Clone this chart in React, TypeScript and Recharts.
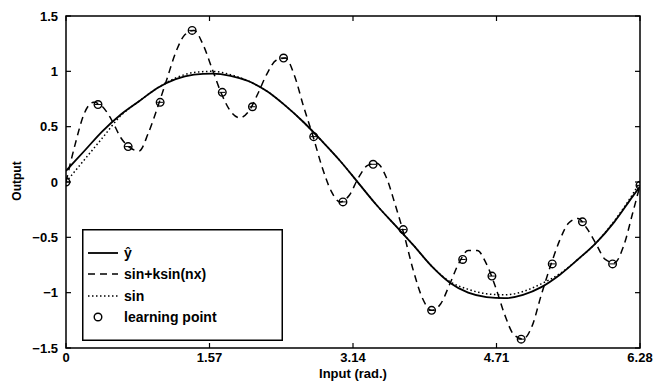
import React from 'react';
import { ComposedChart, Line, Scatter, XAxis, YAxis, ReferenceArea } from 'recharts';

const W = 661;
const H = 383;
const PLOT = { left: 66, top: 16, right: 640, bottom: 348 };
const FONT = '"Liberation Sans", Arial, Helvetica, sans-serif';

const xTicks = [0, 1.57, 3.14, 4.71, 6.28];
const yTicks = [-1.5, -1, -0.5, 0, 0.5, 1, 1.5];

// x grid for the smooth curves (y hat and sin)
const smoothX = [0, 0.2, 0.4, 0.6, 0.8, 1.0, 1.2, 1.4, 1.6, 1.8, 2.0, 2.2, 2.4, 2.6, 2.8, 3.0,
  3.2, 3.4, 3.6, 3.8, 4.0, 4.2, 4.4, 4.6, 4.8, 5.0, 5.2, 5.4, 5.6, 5.8, 6.0, 6.2, 6.28];
const yHat = [0.10, 0.28, 0.46, 0.61, 0.73, 0.85, 0.93, 0.97, 0.98, 0.96, 0.91, 0.82, 0.69, 0.54, 0.37, 0.19,
  -0.01, -0.21, -0.39, -0.57, -0.76, -0.91, -1.00, -1.04, -1.05, -1.02, -0.95, -0.84, -0.70, -0.55, -0.36, -0.13, -0.04];
// dotted sin curve as drawn (mostly hidden under y hat)
const sinY = [0, 0.20, 0.40, 0.60, 0.73, 0.85, 0.94, 0.99, 1.00, 0.97, 0.91, 0.82, 0.69, 0.54, 0.37, 0.19,
  -0.01, -0.21, -0.39, -0.57, -0.76, -0.90, -0.97, -1.01, -1.02, -0.99, -0.92, -0.83, -0.70, -0.55, -0.35, -0.11, 0.00];

// sin + k sin(nx), read every 0.1
const dashX = [0, 0.1, 0.2, 0.3, 0.4, 0.5, 0.6, 0.7, 0.8, 0.9, 1.0, 1.1, 1.2, 1.3, 1.4, 1.5, 1.6, 1.7, 1.8, 1.9,
  2.0, 2.1, 2.2, 2.3, 2.4, 2.5, 2.6, 2.7, 2.8, 2.9, 3.0, 3.1, 3.2, 3.3, 3.4, 3.5, 3.6, 3.7, 3.8, 3.9,
  4.0, 4.1, 4.2, 4.3, 4.4, 4.5, 4.6, 4.7, 4.8, 4.9, 5.0, 5.1, 5.2, 5.3, 5.4, 5.5, 5.6, 5.7, 5.8, 5.9,
  6.0, 6.1, 6.2, 6.28];
const dashY = [0.00, 0.34, 0.62, 0.72, 0.68, 0.56, 0.40, 0.31, 0.28, 0.44, 0.67, 0.92, 1.17, 1.33, 1.37, 1.24,
  1.02, 0.80, 0.64, 0.58, 0.64, 0.80, 0.98, 1.10, 1.12, 0.96, 0.68, 0.42, 0.14, -0.08, -0.18, -0.12,
  0.04, 0.15, 0.17, 0.05, -0.20, -0.48, -0.80, -1.05, -1.16, -1.10, -0.92, -0.73, -0.62, -0.62, -0.74,
  -0.95, -1.20, -1.38, -1.42, -1.30, -1.02, -0.76, -0.53, -0.37, -0.33, -0.42, -0.56, -0.70, -0.73,
  -0.58, -0.28, -0.03];

const learnX = [0, 0.35, 0.68, 1.03, 1.38, 1.71, 2.04, 2.38, 2.71, 3.03, 3.36, 3.69, 4.00, 4.34, 4.66, 4.98,
  5.32, 5.65, 5.98, 6.28];
const learnY = [0.00, 0.70, 0.32, 0.72, 1.37, 0.81, 0.68, 1.12, 0.41, -0.18, 0.16, -0.43, -1.16, -0.70, -0.85,
  -1.42, -0.74, -0.36, -0.74, -0.03];

const hatData = smoothX.map((x, i) => ({ x, y: yHat[i] }));
const sinData = smoothX.map((x, i) => ({ x, y: sinY[i] }));
const dashData = dashX.map((x, i) => ({ x, y: dashY[i] }));
const learnData = learnX.map((x, i) => ({ x, y: learnY[i] }));

const fmtY = (v: number) => (v < 0 ? '\u2212' + String(-v) : String(v));

const XTick = (props: any) => {
  const { x, y, payload } = props;
  return (
    <g>
      <line x1={x} x2={x} y1={PLOT.bottom} y2={PLOT.bottom - 5} stroke="#000" strokeWidth={1.2} />
      <line x1={x} x2={x} y1={PLOT.top} y2={PLOT.top + 5} stroke="#000" strokeWidth={1.2} />
      <text x={x} y={y} dy={10} textAnchor="middle" fontSize={13} fontWeight="bold" fill="#000" fontFamily={FONT}>
        {payload.value}
      </text>
    </g>
  );
};

const YTick = (props: any) => {
  const { x, y, payload } = props;
  return (
    <g>
      <line x1={PLOT.left} x2={PLOT.left + 5} y1={y} y2={y} stroke="#000" strokeWidth={1.2} />
      <line x1={PLOT.right} x2={PLOT.right - 5} y1={y} y2={y} stroke="#000" strokeWidth={1.2} />
      <text x={x} y={y} dy={4.5} textAnchor="end" fontSize={13} fontWeight="bold" fill="#000" fontFamily={FONT}>
        {fmtY(payload.value)}
      </text>
    </g>
  );
};

const LearnDot = (props: any) => {
  const { cx, cy } = props;
  if (cx == null || cy == null) return null;
  return (
    <g>
      <circle cx={cx} cy={cy} r={3.8} fill="none" stroke="#000" strokeWidth={1.4} />
      <line x1={cx - 3} x2={cx + 3} y1={cy} y2={cy} stroke="#000" strokeWidth={1} />
    </g>
  );
};

const Legend = () => (
  <svg
    width={201}
    height={112}
    style={{ position: 'absolute', left: 82, top: 229, background: '#fff' }}
  >
    <rect x={0.75} y={0.75} width={199.5} height={110.5} fill="#fff" stroke="#000" strokeWidth={1.5} />
    <g fontFamily={FONT} fontSize={14} fontWeight="bold" fill="#000">
      <line x1={6} x2={36} y1={24} y2={24} stroke="#000" strokeWidth={1.8} />
      <text x={42} y={29}>ŷ</text>
      <line x1={6} x2={36} y1={45} y2={45} stroke="#000" strokeWidth={1.5} strokeDasharray="7 5" />
      <text x={42} y={50}>sin+ksin(nx)</text>
      <line x1={6} x2={36} y1={67} y2={67} stroke="#000" strokeWidth={1.5} strokeDasharray="1.5 2.5" />
      <text x={42} y={72}>sin</text>
      <circle cx={16} cy={88} r={3.8} fill="none" stroke="#000" strokeWidth={1.4} />
      <text x={42} y={93}>learning point</text>
    </g>
  </svg>
);

export default function App() {
  return (
    <div style={{ position: 'absolute', left: 0, top: 0, width: W, height: H, background: '#fff' }}>
      <ComposedChart width={W} height={H} margin={{ top: PLOT.top, right: W - PLOT.right, bottom: 0, left: 0 }}>
        <XAxis
          type="number"
          dataKey="x"
          domain={[0, 6.28]}
          ticks={xTicks}
          allowDataOverflow
          axisLine={false}
          tickLine={false}
          tickSize={0}
          tickMargin={4}
          tick={<XTick />}
          height={H - PLOT.bottom}
          label={{
            value: 'Input (rad.)',
            position: 'insideBottom',
            offset: 5,
            style: { fontSize: 13, fontWeight: 'bold', fill: '#000', fontFamily: FONT },
          }}
        />
        <YAxis
          type="number"
          dataKey="y"
          domain={[-1.5, 1.5]}
          ticks={yTicks}
          allowDataOverflow
          axisLine={false}
          tickLine={false}
          tickSize={0}
          tickMargin={8}
          tick={<YTick />}
          width={PLOT.left}
          label={() => (
            <text
              x={17}
              y={181}
              transform="rotate(-90, 17, 181)"
              textAnchor="middle"
              dominantBaseline="central"
              fontSize={12}
              fontWeight="bold"
              fill="#000"
              fontFamily={FONT}
            >
              Output
            </text>
          )}
        />
        <ReferenceArea x1={0} x2={6.28} y1={-1.5} y2={1.5} fill="none" stroke="#000" strokeWidth={1.5} />
        <Line data={sinData} dataKey="y" type="monotone" stroke="#000" strokeWidth={1.5}
          strokeDasharray="1.5 2.5" dot={false} activeDot={false} isAnimationActive={false} />
        <Line data={hatData} dataKey="y" type="monotone" stroke="#000" strokeWidth={1.8}
          dot={false} activeDot={false} isAnimationActive={false} />
        <Line data={dashData} dataKey="y" type="monotone" stroke="#000" strokeWidth={1.5}
          strokeDasharray="7 5" dot={false} activeDot={false} isAnimationActive={false} />
        <Scatter data={learnData} dataKey="y" shape={<LearnDot />} isAnimationActive={false} />
      </ComposedChart>
      <Legend />
    </div>
  );
}
